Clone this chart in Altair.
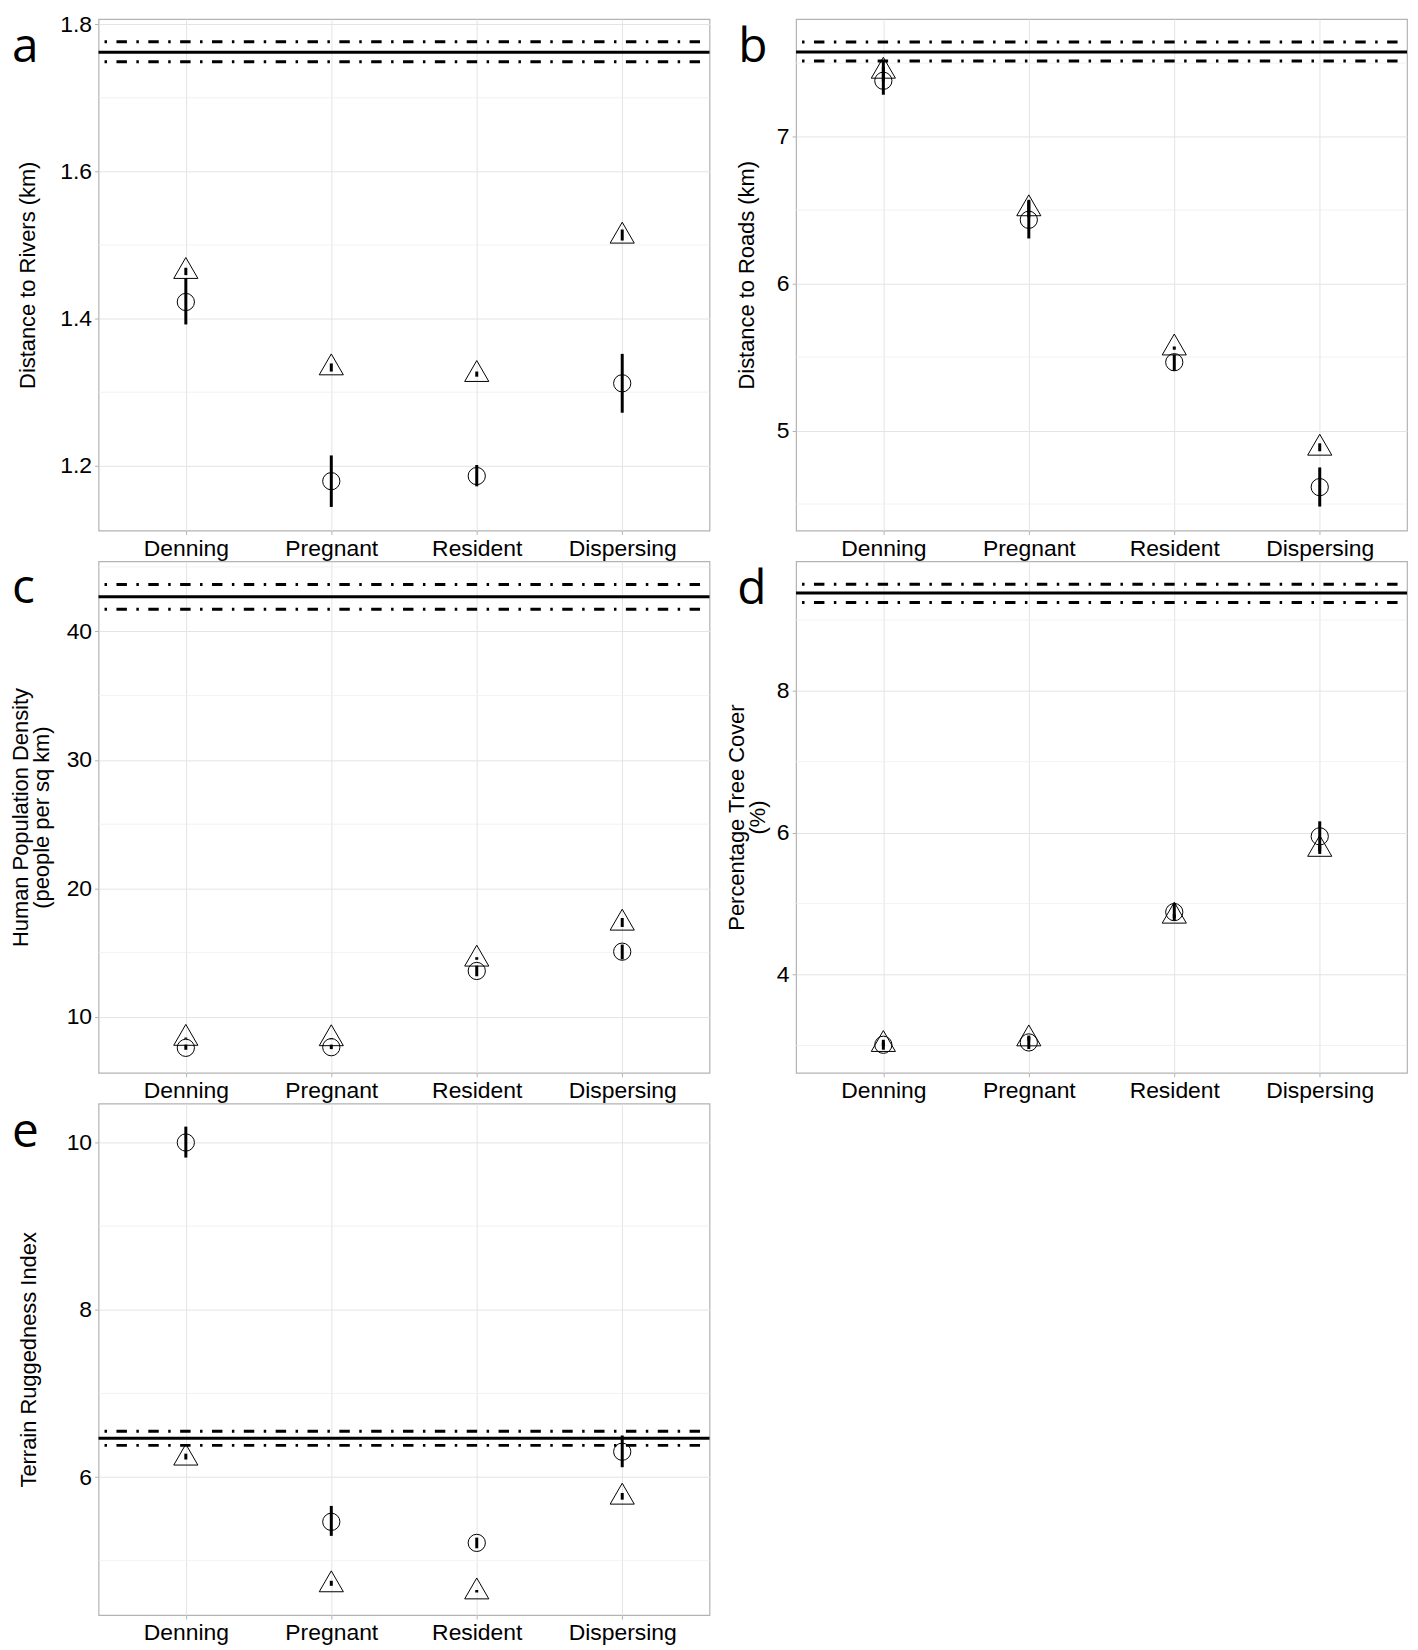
import altair as alt
import pandas as pd

categories = ["Denning", "Pregnant", "Resident", "Dispersing"]
panel_letters = ["a", "b", "c", "d", "e"]
y_titles = [
    "Distance to Rivers (km)",
    "Distance to Roads (km)",
    ["Human Population Density", "(people per sq km)"],
    ["Percentage Tree Cover", "(%)"],
    "Terrain Ruggedness Index",
]

# ---- panel a: distance to rivers
a_circle_mean = [1.4225, 1.179, 1.186, 1.312]
a_circle_lo = [1.392, 1.144, 1.172, 1.272]
a_circle_hi = [1.455, 1.214, 1.201, 1.352]
a_tri_mean = [1.464, 1.333, 1.324, 1.512]
a_tri_lo = [1.459, 1.328, 1.321, 1.506]
a_tri_hi = [1.469, 1.339, 1.328, 1.521]
a_ref = [1.762, 1.749, 1.776]
a_ticks = [1.2, 1.4, 1.6, 1.8]
a_minor = [1.3, 1.5, 1.7]
a_domain = [1.112, 1.807]

# ---- panel b: distance to roads
b_circle_mean = [7.380, 6.434, 5.465, 4.615]
b_circle_lo = [7.285, 6.307, 5.407, 4.483]
b_circle_hi = [7.475, 6.560, 5.517, 4.749]
b_tri_mean = [7.445, 6.509, 5.562, 4.880]
b_tri_lo = [7.375, 6.450, 5.550, 4.859]
b_tri_hi = [7.514, 6.570, 5.572, 4.913]
b_ref = [7.576, 7.515, 7.644]
b_ticks = [5, 6, 7]
b_minor = [4.5, 5.5, 6.5, 7.5]
b_domain = [4.32, 7.80]

# ---- panel c: human population density
c_circle_mean = [7.60, 7.65, 13.58, 15.08]
c_circle_lo = [7.45, 7.50, 13.17, 14.48]
c_circle_hi = [7.85, 7.85, 13.99, 15.63]
c_tri_mean = [8.34, 8.31, 14.50, 17.30]
c_tri_lo = [8.30, 8.27, 14.45, 17.00]
c_tri_hi = [8.40, 8.35, 14.65, 17.70]
c_ref = [42.68, 41.72, 43.63]
c_ticks = [10, 20, 30, 40]
c_minor = [15, 25, 35, 45]
c_domain = [5.66, 45.44]

# ---- panel d: percentage tree cover
d_circle_mean = [3.01, 3.043, 4.88, 5.948]
d_circle_lo = [2.94, 2.95, 4.76, 5.74]
d_circle_hi = [3.08, 3.14, 5.01, 6.16]
d_tri_mean = [3.014, 3.093, 4.823, 5.765]
d_tri_lo = [2.99, 3.07, 4.80, 5.70]
d_tri_hi = [3.04, 3.12, 4.85, 5.82]
d_ref = [9.378, 9.244, 9.502]
d_ticks = [4, 6, 8]
d_minor = [3, 5, 7, 9]
d_domain = [2.615, 9.825]

# ---- panel e: terrain ruggedness index
e_circle_mean = [10.0, 5.465, 5.213, 6.303]
e_circle_lo = [9.82, 5.297, 5.149, 6.118]
e_circle_hi = [10.19, 5.655, 5.276, 6.497]
e_tri_mean = [6.227, 4.712, 4.627, 5.760]
e_tri_lo = [6.21, 4.70, 4.62, 5.73]
e_tri_hi = [6.28, 4.76, 4.65, 5.81]
e_ref = [6.463, 6.379, 6.547]
e_ticks = [6, 8, 10]
e_minor = [5, 7, 9]
e_domain = [4.35, 10.465]

FONT = "Liberation Sans, Arial"
TRI = "M0,-1L0.866,0.5L-0.866,0.5Z"
W, H = 614, 514


def panel(letter, title, cm, cl, ch, tm, tl, th, ref, ticks, minor, domain,
          fmt, title_pad, letter_x, letter_y):
    yscale = alt.Scale(domain=domain, nice=False, zero=False)
    yaxis = alt.Axis(values=ticks, format=fmt, title=title,
                     titlePadding=title_pad, titleLineHeight=21)
    xscale = alt.Scale(type="point", domain=categories, padding=0.6)
    xaxis = alt.Axis(title=None, labelAngle=0, grid=True)

    def Y(field):
        return alt.Y(field, type="quantitative", scale=yscale, axis=yaxis)

    X = alt.X("cat:N", scale=xscale, axis=xaxis)

    circ = pd.DataFrame({"cat": categories, "mean": cm, "lo": cl, "hi": ch})
    tri = pd.DataFrame({"cat": categories, "mean": tm, "lo": tl, "hi": th})
    bars = pd.concat([circ, tri], ignore_index=True)

    minor_layer = alt.Chart(pd.DataFrame({"v": minor})).mark_rule(
        color="#efefef", strokeWidth=0.8).encode(y=Y("v"))
    mean_line = alt.Chart(pd.DataFrame({"v": [ref[0]]})).mark_rule(
        color="black", strokeWidth=3).encode(y=Y("v"))
    ci_lines = alt.Chart(pd.DataFrame({"v": ref[1:]})).mark_rule(
        color="black", strokeWidth=3, strokeDash=[10.5, 9.5, 2.5, 9.5],
        strokeDashOffset=22.5).encode(y=Y("v"))
    circ_pts = alt.Chart(circ).mark_point(
        shape="circle", size=300, filled=False, color="black",
        strokeWidth=1, opacity=1).encode(x=X, y=Y("mean"))
    tri_pts = alt.Chart(tri).mark_point(
        shape=TRI, size=784, filled=False, color="black",
        strokeWidth=1, opacity=1).encode(x=X, y=Y("mean"))
    err = alt.Chart(bars).mark_rule(color="black", strokeWidth=3).encode(
        x=X, y=Y("lo"), y2="hi:Q")
    lab = alt.Chart(pd.DataFrame({"t": [letter]})).mark_text(
        align="left", baseline="alphabetic", fontSize=48, font="Open Sans",
        color="black").encode(x=alt.value(letter_x), y=alt.value(letter_y),
                              text="t:N")
    return alt.layer(minor_layer, mean_line, ci_lines, circ_pts, tri_pts,
                     err, lab).properties(width=W, height=H)


pa = panel(panel_letters[0], y_titles[0], a_circle_mean, a_circle_lo, a_circle_hi,
           a_tri_mean, a_tri_lo, a_tri_hi, a_ref, a_ticks, a_minor, a_domain,
           ".1f", 20, -87, 43)
pb = panel(panel_letters[1], y_titles[1], b_circle_mean, b_circle_lo, b_circle_hi,
           b_tri_mean, b_tri_lo, b_tri_hi, b_ref, b_ticks, b_minor, b_domain,
           "d", 18, -58, 43)
pc = panel(panel_letters[2], y_titles[2], c_circle_mean, c_circle_lo, c_circle_hi,
           c_tri_mean, c_tri_lo, c_tri_hi, c_ref, c_ticks, c_minor, c_domain,
           "d", 13, -87, 42)
pd_ = panel(panel_letters[3], y_titles[3], d_circle_mean, d_circle_lo, d_circle_hi,
            d_tri_mean, d_tri_lo, d_tri_hi, d_ref, d_ticks, d_minor, d_domain,
            "d", 7, -59, 43)
pe = panel(panel_letters[4], y_titles[4], e_circle_mean, e_circle_lo, e_circle_hi,
           e_tri_mean, e_tri_lo, e_tri_hi, e_ref, e_ticks, e_minor, e_domain,
           "d", 26, -87, 44)

chart = alt.concat(
    pa, pb, pc, pd_, pe, columns=2,
    spacing={"row": 31, "column": 87}, bounds="flush"
).configure_view(
    stroke="#b3b3b3", strokeWidth=1.2
).configure_axis(
    labelFont=FONT, labelFontSize=23, labelColor="black", labelPadding=3,
    titleFont=FONT, titleFontSize=22, titleFontWeight="normal",
    titleColor="black", tickColor="#b3b3b3", tickSize=4, domain=False,
    grid=True, gridColor="#e4e4e4", gridWidth=1
).properties(
    padding=0,
    background="white"
)

chart.save("out.html", embed_options={"renderer": "svg", "actions": False})
